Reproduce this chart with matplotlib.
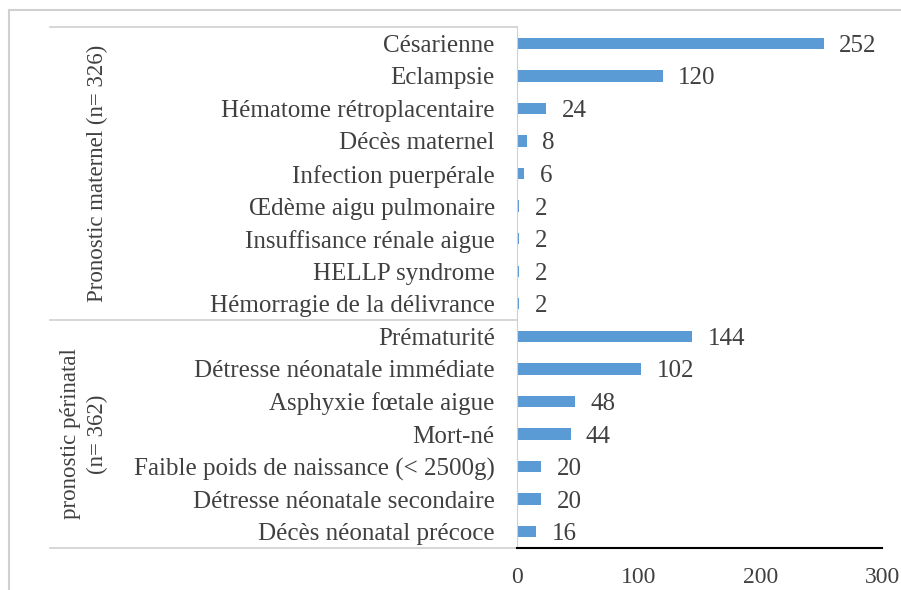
import matplotlib.pyplot as plt
from matplotlib.lines import Line2D

plt.rcParams['font.family'] = ['Liberation Serif', 'DejaVu Serif']

labels = ['Césarienne', 'Eclampsie', 'Hématome rétroplacentaire', 'Décès maternel',
          'Infection puerpérale', 'Œdème aigu pulmonaire', 'Insuffisance rénale aigue',
          'HELLP syndrome', 'Hémorragie de la délivrance',
          'Prématurité', 'Détresse néonatale immédiate', 'Asphyxie fœtale aigue',
          'Mort-né', 'Faible poids de naissance (< 2500g)', 'Détresse néonatale secondaire',
          'Décès néonatal précoce']
values = [252, 120, 24, 8, 6, 2, 2, 2, 2, 144, 102, 48, 44, 20, 20, 16]
groups = ['Pronostic maternel (n= 326)', 'pronostic périnatal\n(n= 362)']
group_sizes = [9, 7]

W, H = 901, 590
fig = plt.figure(figsize=(W / 100, H / 100), dpi=100)
ax = fig.add_axes([517 / W, 1 - 548 / H, (882 - 517) / W, (548 - 27) / H])

txt = '#404040'
grid = '#d0d0d0'
pos = list(range(len(labels)))
ax.barh(pos, values, height=0.35, color='#5b9bd5')
for p, v in zip(pos, values):
    ax.annotate(str(v), (v, p), xytext=(11, 0), textcoords='offset points',
                va='center_baseline', ha='left', fontsize=18, color=txt)

ax.set_xlim(0, 300)
ax.set_ylim(len(labels) - 0.5, -0.5)
ax.set_xticks([0, 100, 200, 300])
ax.tick_params(axis='x', length=0, pad=14, labelsize=17, labelcolor=txt)
ax.set_yticks(pos)
ax.set_yticklabels(labels, va='center_baseline')
ax.tick_params(axis='y', length=0, pad=16, labelsize=18, labelcolor=txt)

for s in ['top', 'right']:
    ax.spines[s].set_visible(False)
ax.spines['left'].set_color(grid)
ax.spines['bottom'].set_color('black')
ax.spines['bottom'].set_linewidth(1.5)

# group separators and labels
tr = ax.get_yaxis_transform()
x0 = (50 - 517) / (882 - 517)
bounds = [-0.5]
for n in group_sizes:
    bounds.append(bounds[-1] + n)
for b in bounds:
    ax.plot([x0, 0], [b, b], color=grid, lw=1.2, transform=tr, clip_on=False)
for i, g in enumerate(groups):
    mid = (bounds[i] + bounds[i + 1]) / 2
    gx = (97 - 517) / (882 - 517) if i == 0 else (84 - 517) / (882 - 517)
    ax.text(gx, mid, g, rotation=90, ha='center', va='center', fontsize=16.5,
            color=txt, transform=tr, multialignment='center', linespacing=1.35)

# outer chart border
fig.add_artist(Line2D([9 / W, 1], [1 - 10 / H, 1 - 10 / H], color=grid, lw=1.5))
fig.add_artist(Line2D([9 / W, 9 / W], [0, 1 - 10 / H], color=grid, lw=1.5))

fig.savefig('out.png', dpi=100)
